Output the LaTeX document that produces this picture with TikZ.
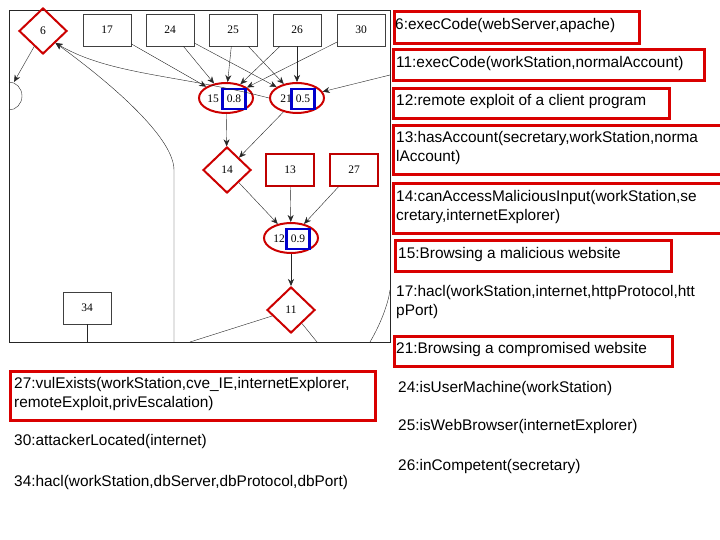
\documentclass[tikz,border=0pt]{standalone}
\usepackage{fontspec}
\setmainfont{Liberation Serif}
\newfontfamily\lab{Liberation Sans}
\usetikzlibrary{shapes.geometric,arrows.meta}
\begin{document}
\begin{tikzpicture}[x=1pt,y=-1pt,
  gbox/.style={draw=black!75,minimum width=48pt,minimum height=32pt,inner sep=0pt,font=\fontsize{11.5}{13}\selectfont},
  rbox/.style={draw=red!75!black,line width=1.8pt,minimum width=48pt,minimum height=32pt,inner sep=0pt,font=\fontsize{11.5}{13}\selectfont},
  dia/.style={diamond,draw=red!80!black,line width=2pt,minimum width=48pt,minimum height=46pt,inner sep=0pt,font=\fontsize{11.5}{13}\selectfont},
  ell/.style={ellipse,draw=red!80!black,line width=2pt,minimum width=54pt,minimum height=30pt,inner sep=0pt},
  blu/.style={draw=blue!80!black,line width=2.2pt,minimum width=23pt,minimum height=20pt,inner sep=0pt,font=\fontsize{11.5}{13}\selectfont},
  num/.style={font=\fontsize{11.5}{13}\selectfont,inner sep=0pt},
  ar/.style={-{Stealth[length=7pt,width=6pt]},black!85},
  ln/.style={black!85},
  tb/.style={draw=red!85!black,line width=3pt,anchor=north west,inner sep=2pt},
  tx/.style={anchor=north west,font=\lab\fontsize{15.4}{19}\selectfont,align=left,inner sep=2pt}]
\useasboundingbox (0,0) rectangle (720,540);
\fill[white] (0,0) rectangle (720,540);
\draw[black!85] (9,10) rectangle (390,342);
% nodes
\node[dia] (n6) at (43,31) {6};
\node[gbox] (n17) at (107,30) {17};
\node[gbox] (n24) at (170,30) {24};
\node[gbox] (n25) at (233,30) {25};
\node[gbox] (n26) at (297,30) {26};
\node[gbox] (n30) at (361,30) {30};
\node[ell] (n15) at (226,98) {};
\node[num] at (213,99) {15};
\node[blu] (b15) at (234,99) {0.8};
\node[ell] (n21) at (297,98) {};
\node[num] at (286,99) {21};
\node[blu] (b21) at (303,99) {0.5};
\node[dia] (n14) at (227,170) {14};
\node[rbox] (n13) at (290,170) {13};
\node[rbox] (n27) at (354,170) {27};
\node[ell] (n12) at (291,238) {};
\node[num] at (279,239) {12};
\node[blu] (b12) at (298,239) {0.9};
\node[dia] (n11) at (291,310) {11};
\node[gbox] (n34) at (87,308) {34};
\coordinate (c6e) at (14,82);
\coordinate (rin) at (390,75);
\coordinate (b34) at (87,342);
\coordinate (b11a) at (190,342);
\coordinate (b11b) at (317,342);
\coordinate (bvl) at (174,342);
\coordinate (bright) at (370,342);
\coordinate (rtop) at (390,290);
% partial ellipse at left
\draw[ln] (9,82) arc[start angle=90,end angle=-90,x radius=13,y radius=-14];
\draw[ar] (n6) -- (c6e);
\draw[ar] (n17) -- (n15);
\draw[ar] (n24) -- (n15);
\draw[ar] (n24) -- (n21);
\draw[ar] (n25) -- (n15);
\draw[ar] (n25) -- (n21);
\draw[ar] (n26) -- (n15);
\draw[ar] (n26) -- (n21);
\draw[ar] (n30) -- (n15);
\draw[ar] (rin) -- (n21);
\draw[ar] (n21.west) .. controls (180,75) and (110,75) .. (n6.south east);
\draw[ar] (bvl) -- (174,170) .. controls (174,140) and (120,90) .. (n6.south east);
\draw[ar] (n15) -- (n14);
\draw[ar] (n21) -- (n14);
\draw[ar] (n14) -- (n12);
\draw[ar] (n13) -- (n12);
\draw[ar] (n27) -- (n12);
\draw[ar] (n12) -- (n11);
\draw[ln] (n11) -- (b11a);
\draw[ln] (n11) -- (b11b);
\draw[ln] (n34) -- (b34);
\draw[ln] (bright) .. controls (380,325) and (388,305) .. (rtop);
% labels
\node[tb,minimum width=245pt,minimum height=32pt] (r6) at (393,10) {};
\node[tx] (t6) at (393,16) {6:execCode(webServer,apache)};
\node[tb,minimum width=311pt,minimum height=31pt] (r11) at (392,48) {};
\node[tx] (t11) at (394,54) {11:execCode(workStation,normalAccount)};
\node[tb,minimum width=276pt,minimum height=30pt] (r12) at (392,87) {};
\node[tx] (t12) at (394,92) {12:remote exploit of a client program};
\node[tb,minimum width=328pt,minimum height=49pt] (r13) at (392,124) {};
\node[tx] (t13) at (394,129) {13:hasAccount(secretary,workStation,norma\\lAccount)};
\node[tb,minimum width=328pt,minimum height=50pt] (r14) at (392,182) {};
\node[tx] (t14) at (394,188) {14:canAccessMaliciousInput(workStation,se\\cretary,internetExplorer)};
\node[tb,minimum width=276pt,minimum height=31pt] (r15) at (394,239) {};
\node[tx] (t15) at (396,245) {15:Browsing a malicious website};
\node[tx] (t17) at (394,283) {17:hacl(workStation,internet,httpProtocol,htt\\pPort)};
\node[tb,minimum width=278pt,minimum height=30pt] (r21) at (393,335) {};
\node[tx] (t21) at (394,340) {21:Browsing a compromised website};
\node[tb,minimum width=365pt,minimum height=49pt] (r27) at (9,370) {};
\node[tx] (t27) at (12,375) {27:vulExists(workStation,cve\_IE,internetExplorer,\\remoteExploit,privEscalation)};
\node[tx] (t30) at (12,432) {30:attackerLocated(internet)};
\node[tx] (t34) at (12,473) {34:hacl(workStation,dbServer,dbProtocol,dbPort)};
\node[tx] (t24) at (396,379) {24:isUserMachine(workStation)};
\node[tx] (t25) at (396,417) {25:isWebBrowser(internetExplorer)};
\node[tx] (t26) at (396,457) {26:inCompetent(secretary)};
\end{tikzpicture}
\end{document}
